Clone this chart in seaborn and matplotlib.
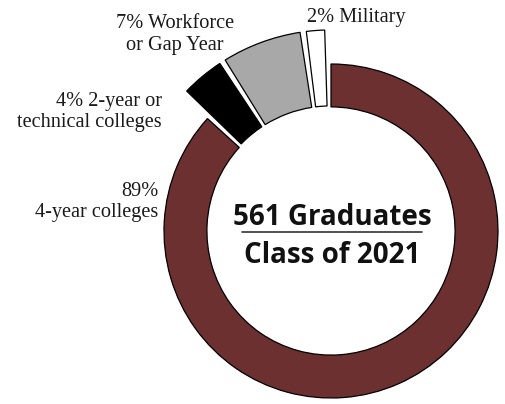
import matplotlib
matplotlib.use("Agg")
import matplotlib.pyplot as plt
import seaborn as sns

# ---- data ----
categories = ["4-year colleges", "2-year or technical colleges", "Workforce or Gap Year", "Military"]
percents = [89, 4, 7, 2]
colors = ["#6C3031", "#000000", "#A7A8A7", "#FFFFFF"]
label_lines = [
    ["89%", "4-year colleges"],
    ["4% 2-year or", "technical colleges"],
    ["7% Workforce", "or Gap Year"],
    ["2% Military"],
]
center_title = "561 Graduates"
center_sub = "Class of 2021"

sns.set_theme(style="white")
plt.rcParams["font.family"] = ["Liberation Serif", "DejaVu Serif"]

W, H, DPI = 506, 404, 100
fig = plt.figure(figsize=(W / DPI, H / DPI), dpi=DPI)
ax = fig.add_axes([0, 0, 1, 1])

# pixel geometry of reference
cx, cy, R = 331, 231, 167.0
def px(x, y):
    return (x - cx) / R, (cy - y) / R

wedges, _ = ax.pie(percents, colors=colors, startangle=90, counterclock=False,
                   radius=1.0, wedgeprops=dict(width=0.257, edgecolor="black", linewidth=0.9))

gap = 1.8
for i, w in enumerate(wedges):
    if i > 0:
        w.set_radius(1.204)
        w.set_width(0.455)
    w.set_theta1(w.theta1 + gap)

ax.set_xlim(px(0, 0)[0], px(W, 0)[0])
ax.set_ylim(px(0, H)[1], px(0, 0)[1])
ax.set_aspect("equal")
ax.axis("off")

fs = 14.6
# label placements (pixel anchors in reference)
anchors = [
    (158, [196, 217], "right"),
    (162, [106, 127], "right"),
    (175, [28, 50], "center"),
    (307, [22], "left"),
]
for lines, (x, ys, ha) in zip(label_lines, anchors):
    for line, y in zip(lines, ys):
        ax.text(*px(x, y), line, ha=ha, va="baseline", fontsize=fs, color="#1a1a1a")

sans = ["Open Sans", "DejaVu Sans"]
ax.text(*px(332, 225), center_title, ha="center", va="baseline", fontsize=20,
        fontweight="bold", family=sans, color="#111111")
ax.text(*px(332, 263), center_sub, ha="center", va="baseline", fontsize=20,
        fontweight="bold", family=sans, color="#111111")
x0, y0 = px(242, 232)
x1, _ = px(422, 232)
ax.plot([x0, x1], [y0, y0], color="#333333", linewidth=1.2)

fig.savefig("out.png", dpi=DPI)
